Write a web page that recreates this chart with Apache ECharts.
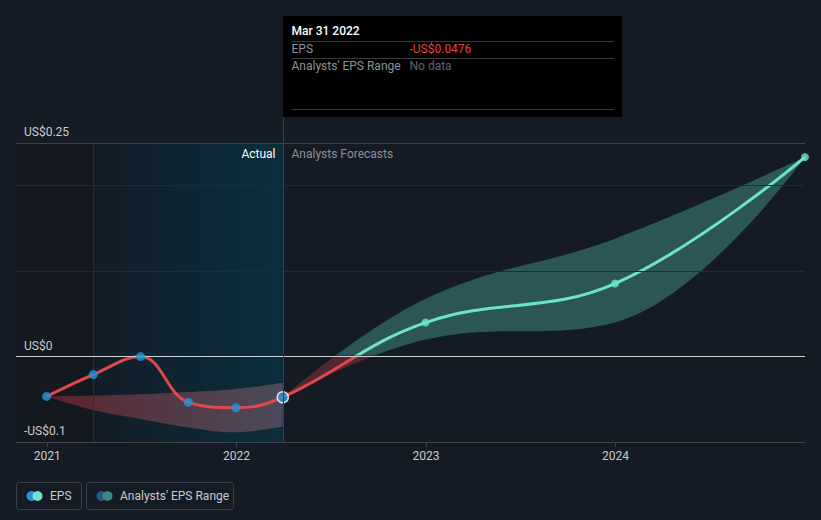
<!DOCTYPE html>
<html>
<head>
<meta charset="utf-8">
<script src="https://cdn.jsdelivr.net/npm/echarts@6/dist/echarts.min.js"></script>
<style>
  html, body { margin: 0; padding: 0; background: #151b24; }
  #chart { width: 821px; height: 520px; }
</style>
</head>
<body>
<div id="chart"></div>
<script>
// ---- data ----
const actualDates = ['2020-12-31', '2021-03-31', '2021-06-30', '2021-09-30', '2021-12-31', '2022-03-31'];
const actualEps   = [-0.0466, -0.0211, 0.0, -0.0536, -0.0599, -0.0476];
const pastRangeLow  = [-0.0466, -0.0625, -0.073, -0.083, -0.0886, -0.082];
const pastRangeHigh = [-0.0466, -0.0455, -0.0440, -0.0415, -0.0380, -0.0305];

const forecastDates = ['2022-03-31', '2022-12-31', '2023-12-31', '2024-12-31'];
const forecastEps   = [-0.0476, 0.0398, 0.0855, 0.2335];
const forecastLow   = [-0.0476, 0.0200, 0.0400, 0.2335];
const forecastHigh  = [-0.0476, 0.0676, 0.1380, 0.2335];

const yearTicks = ['2021-01-01', '2022-01-01', '2023-01-01', '2024-01-01'];
const yTickLabels = [
  { value: 0.25, text: 'US$0.25' },
  { value: 0, text: 'US$0' },
  { value: -0.1, text: '-US$0.1' }
];
const xMin = '2020-11-02';
const xMax = '2024-12-31';
const actualStart = '2021-03-31';
const lastActual = '2022-03-31';

const tooltipTitle = 'Mar 31 2022';
const tooltipEps = '-US$0.0476';
const tooltipRange = 'No data';

// ---- helpers ----
const ts = d => Date.UTC(+d.slice(0, 4), +d.slice(5, 7) - 1, +d.slice(8, 10));
const pairs = (xs, ys) => xs.map((d, i) => [ts(d), ys[i]]);
const diffs = (lo, hi) => hi.map((v, i) => v - lo[i]);
const epsLine = pairs(actualDates, actualEps).concat(pairs(forecastDates.slice(1), forecastEps.slice(1)));

const FONT = 'Roboto, "Noto Sans", sans-serif';
const RED = '#e2474b', TEAL = '#6be3cd';
const chart = echarts.init(document.getElementById('chart'), null, { renderer: 'svg' });

function build(lineColor, areaColor) {
  return {
    backgroundColor: '#151b24',
    animation: false,
    grid: { left: 16, right: 16, top: 143, bottom: 78 },
    xAxis: [
      {
        type: 'time', min: ts(xMin), max: ts(xMax), position: 'bottom',
        axisLine: { show: false, onZero: false }, axisTick: { show: false },
        axisLabel: { show: false }, splitLine: { show: false }
      },
      {
        type: 'value', min: ts(xMin), max: ts(xMax), position: 'bottom',
        axisLine: { show: true, onZero: false, lineStyle: { color: '#3f454d', width: 1 } },
        axisTick: { show: true, length: 5, lineStyle: { color: '#3f454d' }, customValues: yearTicks.map(ts) },
        axisLabel: {
          customValues: yearTicks.map(ts),
          formatter: v => String(new Date(v).getUTCFullYear()),
          color: '#c8cbd0', fontSize: 12, fontFamily: FONT, margin: 8
        },
        splitLine: { show: false }
      }
    ],
    yAxis: {
      type: 'value',
      min: -0.1,
      max: 0.25,
      interval: 0.1,
      axisLine: { show: false },
      axisTick: { show: false },
      axisLabel: { show: false },
      splitLine: { show: true, lineStyle: { color: '#262c35', width: 1 } }
    },
    series: [
      // 0: past range base (+ region shading, reference lines)
      {
        type: 'line', stack: 'past', stackStrategy: 'all', data: pairs(actualDates, pastRangeLow), smooth: 0.4,
        showSymbol: false, lineStyle: { opacity: 0 }, silent: true, z: 2,
        markArea: {
          silent: true,
          data: [
            [{ xAxis: ts(xMin), itemStyle: { color: '#141920' } }, { xAxis: ts(actualStart) }],
            [{ xAxis: ts(actualStart), itemStyle: { color: new echarts.graphic.LinearGradient(0, 0, 1, 0, [
              { offset: 0, color: '#121d28' }, { offset: 1, color: '#0b2e3d' }
            ]) } }, { xAxis: ts(lastActual) }]
          ]
        },
        markLine: {
          silent: true, symbol: ['none', 'none'], label: { show: false },
          data: [
            { xAxis: ts(actualStart), lineStyle: { color: '#1c3340', type: 'solid', width: 1 } },
            { yAxis: 0.25, lineStyle: { color: '#3f454d', type: 'solid', width: 1 } },
            { yAxis: 0.1, lineStyle: { color: '#232a33', type: 'solid', width: 1 } },
            { yAxis: 0.2, lineStyle: { color: '#232a33', type: 'solid', width: 1 } }
          ]
        }
      },
      // 1: past range width
      {
        type: 'line', stack: 'past', stackStrategy: 'all', data: pairs(actualDates, diffs(pastRangeLow, pastRangeHigh)), smooth: 0.4,
        showSymbol: false, lineStyle: { opacity: 0 }, silent: true, z: 2,
        areaStyle: {
          opacity: 1,
          color: new echarts.graphic.LinearGradient(0, 0, 1, 0, [
            { offset: 0, color: 'rgba(205,55,65,0.38)' },
            { offset: 1, color: 'rgba(225,140,160,0.30)' }
          ])
        }
      },
      // 2: forecast range base
      {
        type: 'line', stack: 'fc', stackStrategy: 'all', data: pairs(forecastDates, forecastLow), smooth: 0.4,
        showSymbol: false, lineStyle: { opacity: 0 }, silent: true, z: 2
      },
      // 3: forecast range width
      {
        type: 'line', stack: 'fc', stackStrategy: 'all', data: pairs(forecastDates, diffs(forecastLow, forecastHigh)), smooth: 0.4,
        showSymbol: false, lineStyle: { opacity: 0 }, silent: true, z: 2,
        areaStyle: { opacity: 0.3, color: areaColor }
      },
      // 4: zero line
      {
        type: 'line', data: [], silent: true, z: 3,
        markLine: {
          silent: true, symbol: ['none', 'none'], label: { show: false },
          lineStyle: { color: '#cfd1d4', type: 'solid', width: 1.2 },
          data: [{ yAxis: 0 }]
        }
      },
      // 5: EPS line
      {
        name: 'EPS', type: 'line', data: epsLine, smooth: 0.4, showSymbol: false,
        lineStyle: { width: 3, color: lineColor }, z: 4, silent: true
      },
      // 6: actual points
      {
        type: 'scatter', z: 5, silent: true,
        data: pairs(actualDates, actualEps).map((p, i, arr) => i === arr.length - 1
          ? { value: p, symbolSize: 11, itemStyle: { color: '#2394df', borderColor: '#ffffff', borderWidth: 1.5 } }
          : { value: p }),
        symbolSize: 9,
        itemStyle: { color: '#2394df' }
      },
      // 7: forecast points
      {
        type: 'scatter', z: 5, silent: true, clip: true,
        data: pairs(forecastDates.slice(1), forecastEps.slice(1)),
        symbolSize: 8,
        itemStyle: { color: TEAL }
      }
    ]
  };
}

chart.setOption(build(RED, RED));

// ---- colour split at zero, positioned via the chart's own scale ----
const conv = v => chart.convertToPixel({ xAxisIndex: 0, yAxisIndex: 0 }, v);
const pTop = conv([ts(lastActual), 0.25]);
const pZero = conv([ts(lastActual), 0.002]);
const pBottom = conv([ts(lastActual), -0.1]);
const f = (pZero[1] - pTop[1]) / (pBottom[1] - pTop[1]);
const mkGrad = (a) => new echarts.graphic.LinearGradient(0, pTop[1], 0, pBottom[1], [
  { offset: 0, color: a ? 'rgb(94,224,200)' : TEAL }, { offset: f, color: a ? 'rgb(94,224,200)' : TEAL },
  { offset: f, color: a ? 'rgb(220,70,80)' : RED }, { offset: 1, color: a ? 'rgb(220,70,80)' : RED }
], true);
chart.setOption(build(mkGrad(false), mkGrad(true)), true);

const lx = Math.round(pTop[0]) + 0.5;
const boxTop = 16, boxH = 101, boxW = 339;
const tx = lx + 8;

// y-axis value labels, placed on the axis scale
const yLabelGraphics = yTickLabels.map(t => ({
  type: 'text', silent: true, z: 10, x: 24, y: conv([ts(xMin), t.value])[1] - 5,
  style: { text: t.text, fill: '#c8cbd0', font: '12px ' + FONT, align: 'left', verticalAlign: 'bottom' }
}));

chart.setOption({
  graphic: yLabelGraphics.concat([
    { type: 'line', silent: true, z: 10, shape: { x1: lx, y1: boxTop + boxH, x2: lx, y2: pBottom[1] },
      style: { stroke: '#1b4a5d', lineWidth: 1 } },
    { type: 'rect', silent: true, z: 11, shape: { x: lx - 0.5, y: boxTop, width: boxW, height: boxH },
      style: { fill: '#000000' } },
    { type: 'text', silent: true, z: 12, x: tx, y: boxTop + 15,
      style: { text: tooltipTitle, fill: '#ffffff', font: '500 12px ' + FONT, verticalAlign: 'middle' } },
    { type: 'line', silent: true, z: 12, shape: { x1: tx, y1: boxTop + 25.5, x2: lx + boxW - 8, y2: boxTop + 25.5 },
      style: { stroke: '#3a3a3a', lineWidth: 1 } },
    { type: 'text', silent: true, z: 12, x: tx, y: boxTop + 33,
      style: { text: 'EPS', fill: '#8e9399', font: '12px ' + FONT, verticalAlign: 'middle' } },
    { type: 'text', silent: true, z: 12, x: lx + 126, y: boxTop + 33,
      style: { text: tooltipEps, fill: '#e8413f', font: '12px ' + FONT, verticalAlign: 'middle' } },
    { type: 'line', silent: true, z: 12, shape: { x1: tx, y1: boxTop + 42.5, x2: lx + boxW - 8, y2: boxTop + 42.5 },
      style: { stroke: '#3a3a3a', lineWidth: 1 } },
    { type: 'text', silent: true, z: 12, x: tx, y: boxTop + 50,
      style: { text: "Analysts' EPS Range", fill: '#8e9399', font: '12px ' + FONT, verticalAlign: 'middle' } },
    { type: 'text', silent: true, z: 12, x: lx + 126, y: boxTop + 50,
      style: { text: tooltipRange, fill: '#5f6369', font: '12px ' + FONT, verticalAlign: 'middle' } },
    { type: 'line', silent: true, z: 12, shape: { x1: tx, y1: boxTop + 93.5, x2: lx + boxW - 8, y2: boxTop + 93.5 },
      style: { stroke: '#3a3a3a', lineWidth: 1 } },

    { type: 'text', silent: true, z: 10, x: lx - 8, y: pTop[1] + 11,
      style: { text: 'Actual', fill: '#ffffff', font: '12px ' + FONT, align: 'right', verticalAlign: 'middle' } },
    { type: 'text', silent: true, z: 10, x: lx + 8, y: pTop[1] + 11,
      style: { text: 'Analysts Forecasts', fill: '#8a8f96', font: '12px ' + FONT, align: 'left', verticalAlign: 'middle' } },

    // legend
    { type: 'rect', silent: true, shape: { x: 16.5, y: 482.5, width: 65, height: 27, r: 3 },
      style: { fill: 'none', stroke: '#3b414a', lineWidth: 1 } },
    { type: 'circle', silent: true, shape: { cx: 31.5, cy: 496, r: 5 }, style: { fill: '#2394df' } },
    { type: 'circle', silent: true, shape: { cx: 37.5, cy: 496, r: 5 }, style: { fill: TEAL } },
    { type: 'text', silent: true, x: 50, y: 496,
      style: { text: 'EPS', fill: '#c8cbd0', font: '12px ' + FONT, verticalAlign: 'middle' } },
    { type: 'rect', silent: true, shape: { x: 86.5, y: 482.5, width: 147, height: 27, r: 3 },
      style: { fill: 'none', stroke: '#3b414a', lineWidth: 1 } },
    { type: 'circle', silent: true, shape: { cx: 101.5, cy: 496, r: 5 }, style: { fill: '#1d5c86' } },
    { type: 'circle', silent: true, shape: { cx: 107.5, cy: 496, r: 5 }, style: { fill: '#3e877e' } },
    { type: 'text', silent: true, x: 120, y: 496,
      style: { text: "Analysts' EPS Range", fill: '#c8cbd0', font: '12px ' + FONT, verticalAlign: 'middle' } }
  ])
});
</script>
</body>
</html>
